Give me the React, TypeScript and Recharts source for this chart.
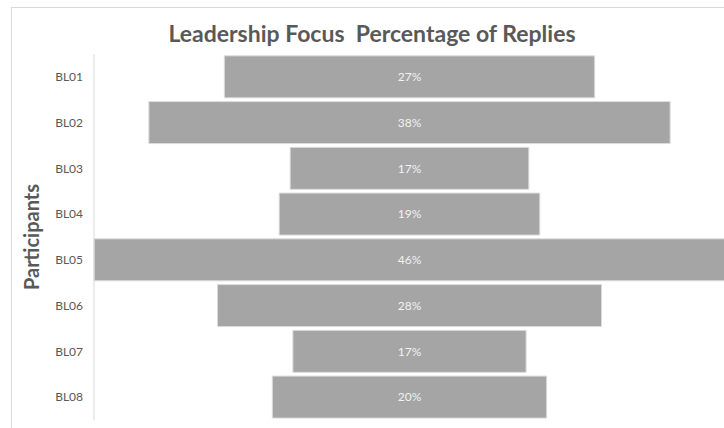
import { BarChart, Bar, XAxis, YAxis, LabelList } from 'recharts';

const participants = ['BL01', 'BL02', 'BL03', 'BL04', 'BL05', 'BL06', 'BL07', 'BL08'];
const replyShare = [27, 38, 17.4, 19, 46, 28, 17, 20];
const replyLabels = ['27%', '38%', '17%', '19%', '46%', '28%', '17%', '20%'];

const maxShare = Math.max(...replyShare);

// funnel: an invisible spacer bar pushes each bar to the centre
const data = participants.map((name, i) => ({
  name,
  spacer: (maxShare - replyShare[i]) / 2,
  value: replyShare[i],
  label: replyLabels[i],
}));

const font = 'Lato, "Open Sans", sans-serif';

export default function App() {
  return (
    <div
      style={{
        position: 'fixed',
        left: 0,
        top: 0,
        width: 724,
        height: 428,
        overflow: 'hidden',
        background: '#fff',
        fontFamily: font,
      }}
    >
      <div
        style={{
          position: 'absolute',
          left: 11,
          top: 7,
          width: 760,
          height: 460,
          borderLeft: '1px solid #d9d9d9',
          borderTop: '1px solid #d9d9d9',
        }}
      />
      <div
        style={{
          position: 'absolute',
          left: 11,
          width: 722,
          top: 22,
          lineHeight: '23px',
          textAlign: 'center',
          fontSize: 23,
          fontWeight: 700,
          color: '#595959',
          whiteSpace: 'pre',
        }}
      >
        {'Leadership Focus  Percentage of Replies'}
      </div>
      <div style={{ position: 'absolute', left: 0, top: 0 }}>
        <BarChart
          width={725}
          height={428}
          data={data}
          layout="vertical"
          margin={{ top: 54, right: 0, bottom: 8, left: 0 }}
          barCategoryGap="4%"
        >
          <XAxis type="number" domain={[0, maxShare]} hide />
          <YAxis
            type="category"
            dataKey="name"
            width={94}
            tickLine={false}
            tickMargin={5}
            axisLine={{ stroke: '#d9d9d9' }}
            tick={{ fill: '#595959', fontSize: 12, fontFamily: font }}
            label={{
              value: 'Participants',
              angle: -90,
              position: 'center',
              dx: -15,
              style: { fill: '#595959', fontSize: 20, fontWeight: 700, fontFamily: font },
            }}
          />
          <Bar dataKey="spacer" stackId="f" fill="transparent" isAnimationActive={false} />
          <Bar
            dataKey="value"
            stackId="f"
            fill="#a5a5a5"
            stroke="#dcdcdc"
            strokeWidth={1}
            isAnimationActive={false}
          >
            <LabelList
              dataKey="label"
              position="center"
              style={{ fill: '#f2f2f2', fontSize: 12, fontFamily: font }}
            />
          </Bar>
        </BarChart>
      </div>
    </div>
  );
}
